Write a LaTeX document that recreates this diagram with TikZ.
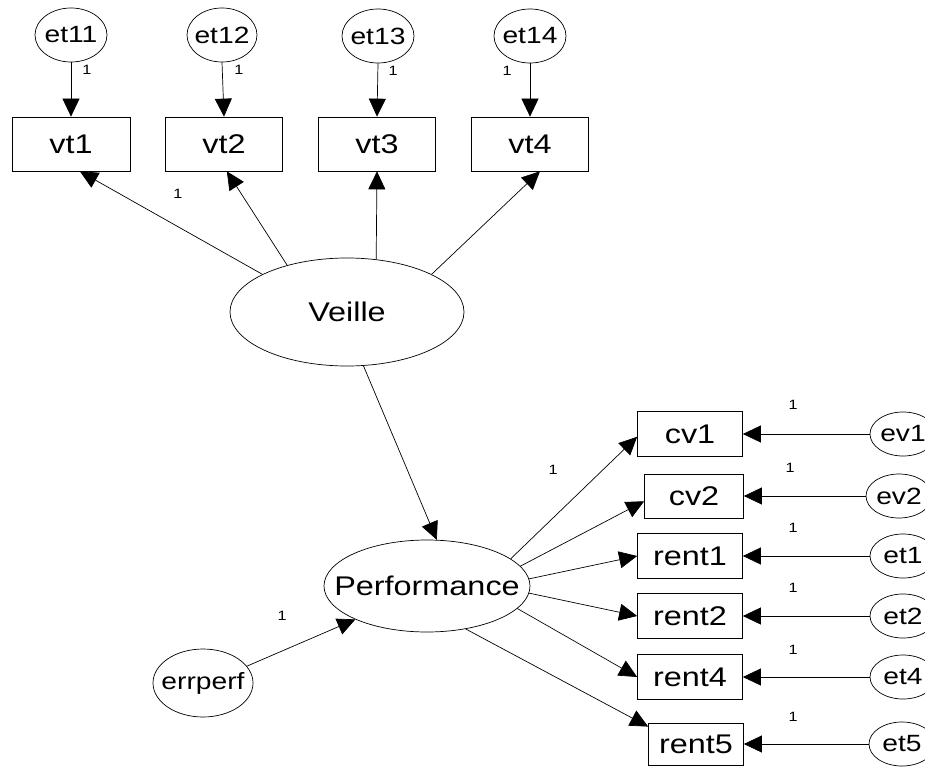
\documentclass[tikz,border=0pt]{standalone}
\usepackage{fontspec}
\setmainfont{Liberation Sans}[FakeStretch=1.2]
\usetikzlibrary{arrows.meta,shapes.geometric}
\newcommand{\ctr}[1]{\makebox[0pt]{#1}}
\begin{document}
\begin{tikzpicture}[x=1pt,y=-1pt,
  obs/.style={draw, rectangle, line width=0.7pt, inner sep=0pt,
    font=\fontsize{27}{32}\selectfont},
  lat/.style={draw, ellipse, line width=0.7pt, inner sep=0pt,
    font=\fontsize{27}{32}\selectfont},
  err/.style={draw, ellipse, line width=0.7pt, inner sep=0pt,
    font=\fontsize{23.5}{28}\selectfont},
  path/.style={-{Triangle[length=18pt,width=17pt]}, line width=0.7pt},
  one/.style={font=\fontsize{13.5}{16}\selectfont, inner sep=0pt}]
\useasboundingbox (0,0) rectangle (925,767);

% indicators of Veille
\node[obs, minimum width=118, minimum height=54] (vt1) at (71,144) {\ctr{vt1}};
\node[obs, minimum width=117, minimum height=54] (vt2) at (224,144) {\ctr{vt2}};
\node[obs, minimum width=117, minimum height=54] (vt3) at (377,144) {\ctr{vt3}};
\node[obs, minimum width=117, minimum height=54] (vt4) at (530,144) {\ctr{vt4}};

% their error terms
\node[err, minimum width=72, minimum height=54] (et11) at (71,35) {\ctr{et11}};
\node[err, minimum width=70, minimum height=54] (et12) at (222,35) {\ctr{et12}};
\node[err, minimum width=72, minimum height=54] (et13) at (378,36) {\ctr{et13}};
\node[err, minimum width=72, minimum height=54] (et14) at (530,36) {\ctr{et14}};

% latent variables
\node[lat, minimum width=234, minimum height=108] (veille) at (347,312) {\ctr{Veille}};
\node[lat, minimum width=206, minimum height=92] (perf) at (427,586) {\ctr{Performance}};
\node[err, minimum width=100, minimum height=68] (errperf) at (203,683) {\ctr{errperf}};

% indicators of Performance
\node[obs, minimum width=105, minimum height=45] (cv1) at (690,434) {\ctr{cv1}};
\node[obs, minimum width=99, minimum height=44] (cv2) at (694,496) {\ctr{cv2}};
\node[obs, minimum width=105, minimum height=45] (rent1) at (690,556) {\ctr{rent1}};
\node[obs, minimum width=105, minimum height=45] (rent2) at (690,616) {\ctr{rent2}};
\node[obs, minimum width=105, minimum height=45] (rent4) at (690,677) {\ctr{rent4}};
\node[obs, minimum width=95, minimum height=42] (rent5) at (696,744) {\ctr{rent5}};

% their error terms
\node[err, minimum width=66, minimum height=44] (ev1) at (903,434) {\ctr{ev1}};
\node[err, minimum width=66, minimum height=44] (ev2) at (899,496) {\ctr{ev2}};
\node[err, minimum width=66, minimum height=44] (et1) at (903,556) {\ctr{et1}};
\node[err, minimum width=66, minimum height=44] (et2) at (903,616) {\ctr{et2}};
\node[err, minimum width=66, minimum height=44] (et4) at (903,677) {\ctr{et4}};
\node[err, minimum width=66, minimum height=44] (et5) at (902,744) {\ctr{et5}};

% error paths
\draw[path] (et11) -- (vt1);
\draw[path] (et12.south) -- (vt2.north);
\draw[path] (et13.south) -- (vt3.north);
\draw[path] (et14) -- (vt4);
\draw[path] (ev1) -- (cv1.east);
\draw[path] (ev2) -- (cv2.east);
\draw[path] (et1) -- (rent1.east);
\draw[path] (et2) -- (rent2.east);
\draw[path] (et4) -- (rent4.east);
\draw[path] (et5) -- (rent5.east);
\draw[path] (errperf.21) -- (perf.205);

% loadings and structural path
\draw[path] (veille.156) -- (vt1.-72);
\draw[path] (veille.142) -- (vt2.-84);
\draw[path] (veille.61) -- (vt3.south);
\draw[path] (veille.24) -- (vt4.-70);
\draw[path] (veille.-73) -- (perf.78);
\draw[path] (perf.18) -- (cv1.183);
\draw[path] (perf.12) -- (cv2.186);
\draw[path] (perf.4) -- (rent1.west);
\draw[path] (perf.-4) -- (rent2.west);
\draw[path] (perf.-14) -- (rent4.west);
\draw[path] (perf.-48) -- (rent5.160);

% fixed coefficients
\node[one] (c11) at (87,70) {1};
\node[one] (c12) at (239,70) {1};
\node[one] (c13) at (393,71) {1};
\node[one] (c14) at (507,71) {1};
\node[one] (cvt1) at (178,194) {1};
\node[one] (ccv1) at (553,470) {1};
\node[one] (cerr) at (282,616) {1};
\node[one] (cev1) at (793,405) {1};
\node[one] (cev2) at (790,468) {1};
\node[one] (cet1) at (793,528) {1};
\node[one] (cet2) at (793,588) {1};
\node[one] (cet4) at (793,650) {1};
\node[one] (cet5) at (793,717) {1};
\end{tikzpicture}
\end{document}
